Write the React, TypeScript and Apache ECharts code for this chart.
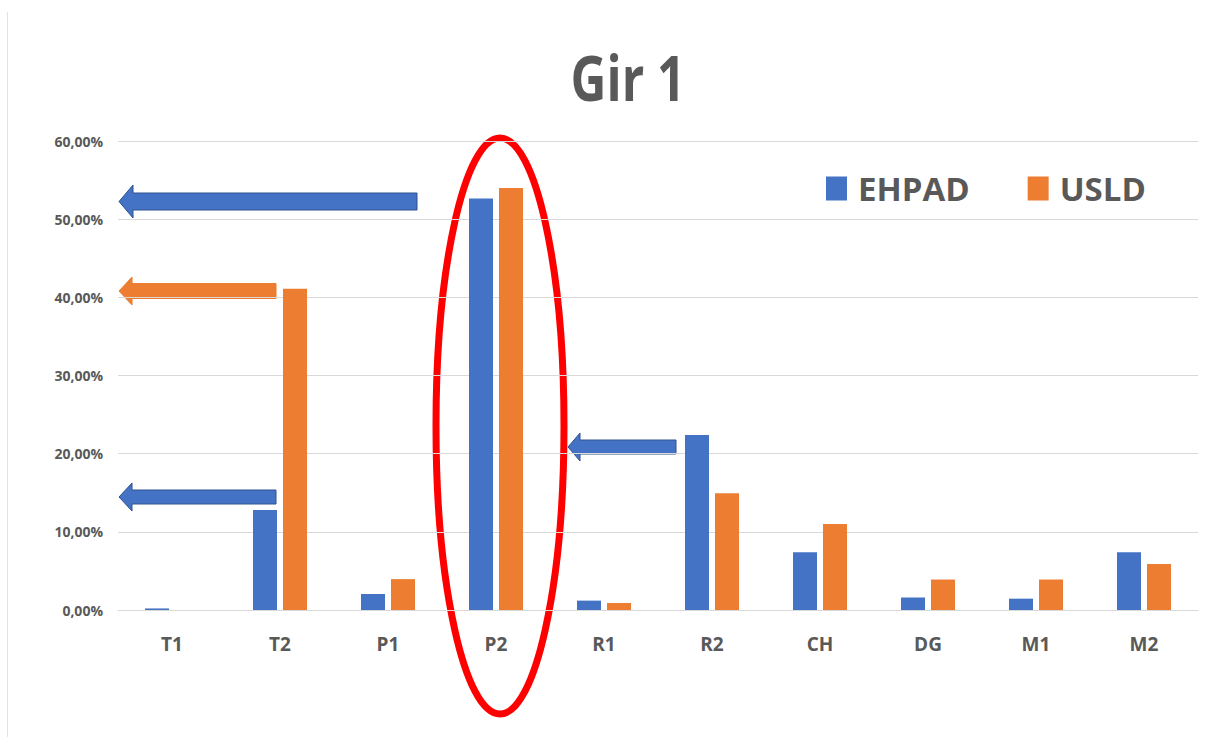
import React, { useEffect, useRef } from "react";
import * as echarts from "echarts";

const categories = ["T1", "T2", "P1", "P2", "R1", "R2", "CH", "DG", "M1", "M2"];
const ehpadValues = [0.2, 12.8, 2.05, 52.65, 1.2, 22.4, 7.4, 1.6, 1.45, 7.4];
const usldValues = [0, 41.1, 3.95, 54.0, 0.9, 14.95, 11.0, 3.9, 3.9, 5.9];
const seriesNames = ["EHPAD", "USLD"];
const yTicks = { min: 0, max: 60, interval: 10 };
const titleText = "Gir 1";

const BLUE = "#4472C4";
const ORANGE = "#ED7D31";
const GREY = "#595959";

function arrow(tipX: number, tipY: number, tailX: number, bodyH: number, headH: number, headLen: number) {
  const bt = tipY - bodyH / 2;
  const bb = tipY + bodyH / 2;
  const ht = tipY - headH / 2;
  const hb = tipY + headH / 2;
  const hx = tipX + headLen;
  return [
    [tipX, tipY],
    [hx, ht],
    [hx, bt],
    [tailX, bt],
    [tailX, bb],
    [hx, bb],
    [hx, hb],
  ];
}

export default function App() {
  const ref = useRef<HTMLDivElement>(null);
  useEffect(() => {
    if (!ref.current) return;
    const chart = echarts.init(ref.current, null, { renderer: "svg" });
    chart.setOption({
      animation: false,
      backgroundColor: "#ffffff",
      grid: { left: 118, right: 32, top: 141, bottom: 127, containLabel: false },
      legend: {
        data: seriesNames,
        left: 826,
        top: 172,
        padding: 0,
        icon: "rect",
        itemWidth: 21,
        itemHeight: 24,
        itemGap: 58,
        textStyle: {
          color: GREY,
          fontFamily: "Open Sans",
          fontWeight: "bold",
          fontSize: 33,
          padding: [0, 0, 0, 6],
        },
      },
      xAxis: {
        type: "category",
        data: categories,
        axisLine: { show: true, lineStyle: { color: "#d9d9d9", width: 1 } },
        axisTick: { show: false },
        axisLabel: {
          color: GREY,
          fontFamily: "Open Sans",
          fontWeight: "bold",
          fontSize: 19,
          margin: 24,
        },
      },
      yAxis: {
        type: "value",
        min: yTicks.min,
        max: yTicks.max,
        interval: yTicks.interval,
        axisLine: { show: false },
        axisTick: { show: false },
        splitLine: { lineStyle: { color: "#d9d9d9", width: 1 } },
        axisLabel: {
          color: GREY,
          fontFamily: "Open Sans",
          fontWeight: "bold",
          fontSize: 14,
          margin: 15,
          formatter: (v: number) => v.toFixed(2).replace(".", ",") + "%",
        },
      },
      series: [
        {
          name: seriesNames[0],
          type: "bar",
          data: ehpadValues,
          barWidth: 24,
          barGap: "25%",
          itemStyle: { color: BLUE },
        },
        {
          name: seriesNames[1],
          type: "bar",
          data: usldValues,
          barWidth: 24,
          barGap: "25%",
          itemStyle: { color: ORANGE },
        },
      ],
      graphic: [
        {
          type: "line",
          shape: { x1: 7.5, y1: 12, x2: 7.5, y2: 737 },
          style: { stroke: "#e3e3e3", lineWidth: 1 },
          silent: true,
        },
        {
          type: "text",
          x: 628,
          y: 77,
          scaleX: 0.8,
          style: {
            text: titleText,
            fill: GREY,
            font: "bold 62px 'Open Sans'",
            align: "center",
            verticalAlign: "middle",
          },
          silent: true,
        },
        {
          type: "polygon",
          shape: { points: arrow(119, 201.5, 417, 17, 33, 14) },
          style: { fill: BLUE, stroke: "#2F528F", lineWidth: 1 },
          silent: true,
        },
        {
          type: "polygon",
          shape: { points: arrow(119, 291, 276, 15, 28, 13) },
          style: { fill: ORANGE, stroke: ORANGE, lineWidth: 1 },
          silent: true,
        },
        {
          type: "polygon",
          shape: { points: arrow(119, 497, 276, 14, 28, 13) },
          style: { fill: BLUE, stroke: "#2F528F", lineWidth: 1 },
          silent: true,
        },
        {
          type: "polygon",
          shape: { points: arrow(568, 447, 676, 14, 28, 12) },
          style: { fill: BLUE, stroke: "#2F528F", lineWidth: 1 },
          silent: true,
        },
        {
          type: "ellipse",
          shape: { cx: 500, cy: 426, rx: 64, ry: 288 },
          style: { fill: "none", stroke: "#FF0000", lineWidth: 7 },
          silent: true,
        },
      ],
    });
    return () => chart.dispose();
  }, []);
  return (
    <div
      ref={ref}
      style={{ position: "fixed", left: 0, top: 0, width: 1230, height: 737 }}
    />
  );
}
